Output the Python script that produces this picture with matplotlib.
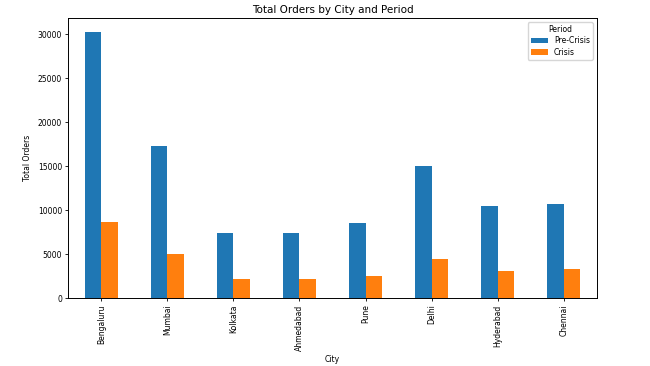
import numpy as np
import matplotlib
matplotlib.use('Agg')
import matplotlib.pyplot as plt

cities = ['Bengaluru', 'Mumbai', 'Kolkata', 'Ahmedabad', 'Pune', 'Delhi', 'Hyderabad', 'Chennai']
pre_crisis = [30300, 17300, 7400, 7450, 8550, 15050, 10500, 10700]
crisis = [8650, 5000, 2200, 2200, 2550, 4450, 3150, 3300]

plt.rcParams['font.size'] = 5.5

fig = plt.figure(figsize=(6.5, 3.66), dpi=100)
ax = fig.add_axes([0.105, 0.185, 0.813, 0.765])

x = np.arange(len(cities))
w = 0.25
ax.bar(x - w/2, pre_crisis, w, color='#1f77b4', label='Pre-Crisis')
ax.bar(x + w/2, crisis, w, color='#ff7f0e', label='Crisis')

ax.set_xticks(x)
ax.set_xticklabels(cities, rotation=90)
ax.set_xlim(-0.5, len(cities) - 0.5)
ax.set_ylim(0, 31800)
ax.set_yticks([0, 5000, 10000, 15000, 20000, 25000, 30000])
ax.tick_params(length=2.5, width=0.6, pad=2)
for s in ax.spines.values():
    s.set_linewidth(0.7)

ax.set_title('Total Orders by City and Period', fontsize=7.5, pad=4)
ax.set_xlabel('City', labelpad=3)
ax.set_ylabel('Total Orders', labelpad=4)
ax.legend(title='Period', fontsize=5.5, title_fontsize=5.5, loc='upper right',
          handlelength=2.2, borderpad=0.4, labelspacing=0.3)

fig.savefig('out.png', dpi=100)
